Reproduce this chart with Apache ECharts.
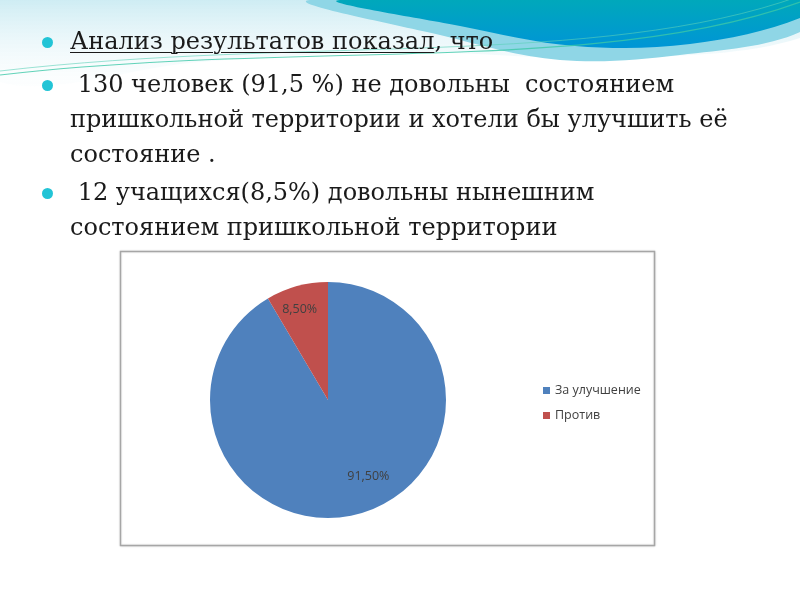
<!DOCTYPE html>
<html>
<head>
<meta charset="utf-8">
<script src="https://cdn.jsdelivr.net/npm/echarts@6/dist/echarts.min.js"></script>
<style>
  html, body { margin: 0; padding: 0; background: #fff; }
  #slide { position: relative; width: 800px; height: 600px; overflow: hidden; }
  #chart { position: absolute; left: 0; top: 0; width: 800px; height: 600px; }
  .line {
    position: absolute; left: 70px; white-space: nowrap;
    font-family: "DejaVu Serif", serif; font-size: 24px; color: #1a1a1a;
  }
  .dot {
    position: absolute; left: 42px; width: 11px; height: 11px; border-radius: 50%;
    background: #22c4d6;
  }
  u { text-decoration-thickness: 1px; text-underline-offset: 3px; }
</style>
</head>
<body>
<div id="slide">
  <div id="chart"></div>
  <span class="dot" style="top:37px"></span>
  <div class="line" style="top:27px"><u>Анализ результатов показал</u>, что</div>
  <span class="dot" style="top:80px"></span>
  <div class="line" style="top:70px">&nbsp;130 человек (91,5 %) не довольны&nbsp; состоянием</div>
  <div class="line" style="top:105px">пришкольной территории и хотели бы улучшить её</div>
  <div class="line" style="top:140px">состояние .</div>
  <span class="dot" style="top:188px"></span>
  <div class="line" style="top:178px">&nbsp;12 учащихся(8,5%) довольны нынешним</div>
  <div class="line" style="top:213px">состоянием пришкольной территории</div>
</div>
<script>
// данные опроса
const categories = ["За улучшение", "Против"];
const shares = [91.5, 8.5];
const colors = ["#4f81bd", "#c0504d"];

const chart = echarts.init(document.getElementById("chart"));

function grad(c0, c1) {
  return { type: "linear", x: 0, y: 0, x2: 0, y2: 1,
    colorStops: [{ offset: 0, color: c0 }, { offset: 1, color: c1 }] };
}

chart.setOption({
  animation: false,
  graphic: [
    // светлая волна сверху
    {
      type: "polygon", z: 0, silent: true,
      shape: { smooth: 0.35, points: [[0, 0], [800, 0], [800, 38], [620, 58], [400, 52], [200, 62], [0, 82]] },
      style: { fill: grad("rgba(150,215,230,0.6)", "rgba(235,247,250,0.1)") }
    },
    {
      type: "polygon", z: 1, silent: true,
      shape: { smooth: 0.35, points: [[310, 0], [800, 0], [800, 32], [680, 55], [560, 60], [440, 35]] },
      style: { fill: "#8fd6e6" }
    },
    {
      type: "polygon", z: 2, silent: true,
      shape: { smooth: 0.35, points: [[340, 0], [800, 0], [800, 18], [690, 44], [575, 46], [460, 26]] },
      style: { fill: grad("#00aab8", "#0095d6") }
    },
    {
      type: "bezierCurve", z: 3, silent: true,
      shape: { x1: 0, y1: 75, cpx1: 300, cpy1: 40, cpx2: 600, cpy2: 75, x2: 800, y2: 2 },
      style: { fill: null, stroke: "#3cc8a8", lineWidth: 1.2, opacity: 0.8 }
    },
    {
      type: "bezierCurve", z: 3, silent: true,
      shape: { x1: 0, y1: 71, cpx1: 300, cpy1: 36, cpx2: 600, cpy2: 68, x2: 800, y2: -4 },
      style: { fill: null, stroke: "#5ad0b8", lineWidth: 1, opacity: 0.6 }
    },
    // рамка диаграммы
    {
      type: "rect", z: 4, silent: true,
      shape: { x: 120.5, y: 251.5, width: 534, height: 294 },
      style: { fill: "#fff", stroke: "#a6a6a6", lineWidth: 1.5, shadowBlur: 2, shadowColor: "rgba(0,0,0,0.15)" }
    }
  ],
  legend: {
    orient: "vertical",
    left: 538,
    top: 379,
    itemWidth: 7,
    itemHeight: 7,
    itemGap: 12,
    icon: "rect",
    textStyle: { fontFamily: "Open Sans", fontSize: 12.5, color: "#404040" },
    data: categories
  },
  series: [
    {
      type: "pie",
      z: 10,
      center: [328, 400],
      radius: 118,
      startAngle: 90,
      clockwise: true,
      silent: true,
      label: {
        show: true,
        position: "inside",
        fontFamily: "Open Sans",
        fontSize: 12.5,
        color: "#404040",
        formatter: p => p.value.toFixed(2).replace(".", ",") + "%"
      },
      labelLine: { show: false },
      itemStyle: { borderColor: "#fff", borderWidth: 0 },
      data: categories.map((name, i) => ({
        name,
        value: shares[i],
        itemStyle: { color: colors[i] },
        label: { offset: i === 0 ? [24, 17] : [-12, -31] }
      }))
    }
  ]
});
</script>
</body>
</html>
